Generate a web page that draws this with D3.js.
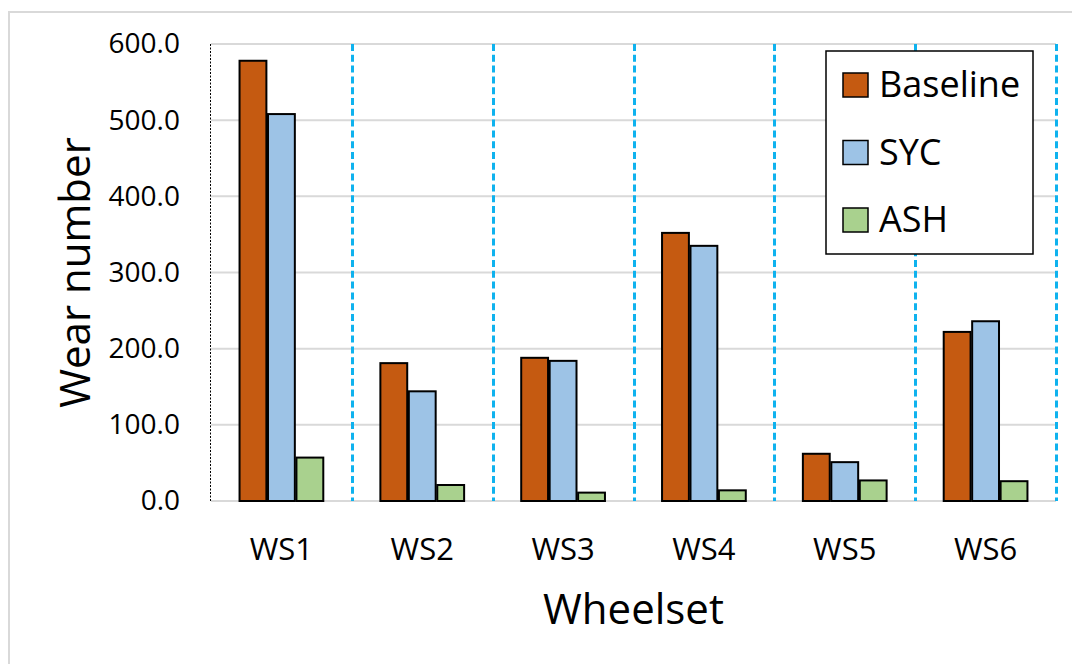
<!DOCTYPE html>
<html>
<head>
<meta charset="utf-8">
<script src="https://cdn.jsdelivr.net/npm/d3@7"></script>
<style>
  html, body { margin: 0; padding: 0; background: #fff; }
  svg { display: block; font-family: "Open Sans", sans-serif; }
</style>
</head>
<body>
<svg id="chart" width="1072" height="664"></svg>
<script>
const categories = ["WS1", "WS2", "WS3", "WS4", "WS5", "WS6"];
const seriesNames = ["Baseline", "SYC", "ASH"];
const baseline = [578, 181, 188, 352, 62, 222];
const syc = [508, 144, 184, 335, 51, 236];
const ash = [57, 21, 11, 14, 27, 26];
const yTicks = [0, 100, 200, 300, 400, 500, 600];
const colors = ["#C55A11", "#9DC3E6", "#A9D18E"];

(function () {
const seriesValues = [baseline, syc, ash];
const data = categories.map((c, i) => ({
  cat: c,
  vals: seriesNames.map((s, j) => ({ name: s, value: seriesValues[j][i] }))
}));

const svg = d3.select("#chart");
const pL = 211, pR = 1056, pT = 44, pB = 501;

// outer border
svg.append("rect").attr("x", 9).attr("y", 12).attr("width", 1080).attr("height", 680)
  .attr("fill", "#fff").attr("stroke", "#d9d9d9").attr("stroke-width", 2);

const x = d3.scaleBand().domain(categories).range([pL, pR]).padding(0);
const bw = x.bandwidth();
const pad = bw * 0.197;
const x1 = d3.scaleBand().domain(seriesNames).range([pad, bw - pad]).padding(0);
const y = d3.scaleLinear().domain([0, 600]).range([pB, pT]);

// gridlines
svg.append("g").selectAll("line").data(yTicks).join("line")
  .attr("x1", pL).attr("x2", pR)
  .attr("y1", d => y(d)).attr("y2", d => y(d))
  .attr("stroke", "#d9d9d9").attr("stroke-width", 2);

// category separators (dashed blue)
svg.append("g").selectAll("line").data(categories).join("line")
  .attr("x1", d => Math.round(x(d) + bw) + 0.5).attr("x2", d => Math.round(x(d) + bw) + 0.5)
  .attr("y1", pT).attr("y2", pB)
  .attr("stroke", "#0FB2EE").attr("stroke-width", 3).attr("stroke-dasharray", "7,3.8");

// left axis dotted line
svg.append("line").attr("x1", pL - 0.5).attr("x2", pL - 0.5).attr("y1", pT).attr("y2", pB)
  .attr("stroke", "#000").attr("stroke-width", 1).attr("stroke-dasharray", "2,1.5");

// bars
const groups = svg.append("g").selectAll("g").data(data).join("g")
  .attr("transform", d => `translate(${x(d.cat)},0)`);
groups.selectAll("rect").data(d => d.vals).join("rect")
  .attr("x", d => x1(d.name) + 0.8)
  .attr("width", x1.bandwidth() - 1.6)
  .attr("y", d => y(d.value))
  .attr("height", d => y(0) - y(d.value))
  .attr("fill", (d, i) => colors[i])
  .attr("stroke", "#000").attr("stroke-width", 2);

// y axis labels
const yAxis = d3.axisLeft(y).tickValues(yTicks).tickFormat(d3.format(".1f")).tickSize(0).tickPadding(31);
const ya = svg.append("g").attr("transform", `translate(${pL},0)`).call(yAxis);
ya.select(".domain").remove();
ya.selectAll("text").attr("font-size", 28).attr("fill", "#000").attr("font-family", "Open Sans");

// x axis labels
const xAxis = d3.axisBottom(x).tickSize(0).tickPadding(37);
const xa = svg.append("g").attr("transform", `translate(0,${pB})`).call(xAxis);
xa.select(".domain").remove();
xa.selectAll("text").attr("font-size", 31).attr("fill", "#000").attr("font-family", "Open Sans");

// axis titles
svg.append("text").attr("x", (pL + pR) / 2).attr("y", 624)
  .attr("text-anchor", "middle").attr("font-size", 42).attr("fill", "#000").text("Wheelset");
svg.append("text").attr("transform", `translate(90,${(pT + pB) / 2}) rotate(-90)`)
  .attr("text-anchor", "middle").attr("font-size", 42).attr("fill", "#000").text("Wear number");

// legend
const lg = svg.append("g");
lg.append("rect").attr("x", 826).attr("y", 51).attr("width", 207).attr("height", 203)
  .attr("fill", "#fff").attr("stroke", "#000").attr("stroke-width", 1.5);
const items = lg.selectAll("g.item").data(seriesNames).join("g").attr("class", "item")
  .attr("transform", (d, i) => `translate(0,${i * 67.5})`);
items.append("rect").attr("x", 843).attr("y", 73).attr("width", 25).attr("height", 24)
  .attr("fill", (d, i) => colors[i]).attr("stroke", "#000").attr("stroke-width", 1.5);
items.append("text").attr("x", 879).attr("y", 97).attr("font-size", 36).attr("fill", "#000").text(d => d);
})();
</script>
</body>
</html>
